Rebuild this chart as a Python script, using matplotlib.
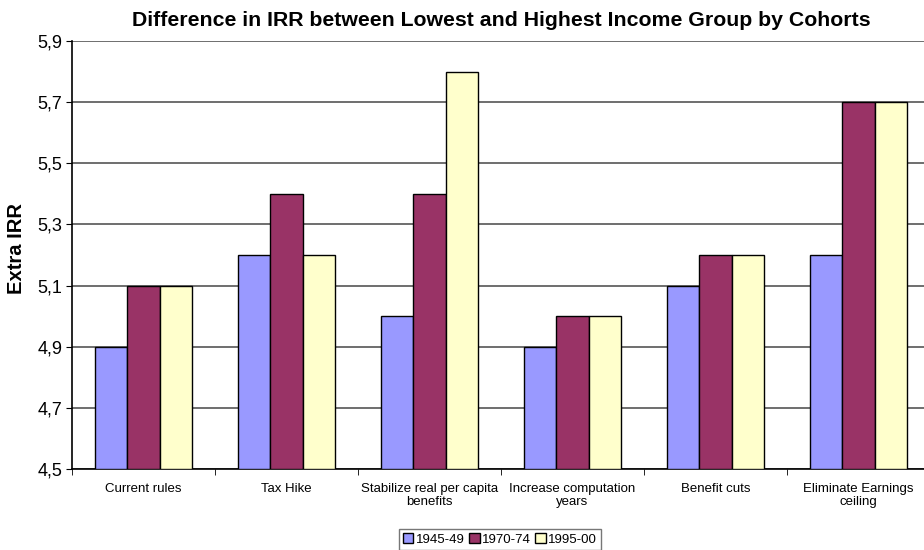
import matplotlib.pyplot as plt
import numpy as np
from matplotlib.ticker import FixedLocator, FuncFormatter

plt.rcParams['font.family'] = ['Liberation Sans', 'DejaVu Sans']

categories = ['Current rules', 'Tax Hike', 'Stabilize real per capita\nbenefits',
              'Increase computation\nyears', 'Benefit cuts', 'Eliminate Earnings\nceiling']
cohorts = ['1945-49', '1970-74', '1995-00']
irr_1945 = [4.9, 5.2, 5.0, 4.9, 5.1, 5.2]
irr_1970 = [5.1, 5.4, 5.4, 5.0, 5.2, 5.7]
irr_1995 = [5.1, 5.2, 5.8, 5.0, 5.2, 5.7]
colors = ['#9999FF', '#993366', '#FFFFCC']

fig = plt.figure(figsize=(9.24, 5.5), dpi=100)
ax = fig.add_axes([72/924, 81/550, 858/924, 428/550])

x = np.arange(len(categories))
w = 0.224
base = 4.5
for i, (vals, lab, c) in enumerate(zip([irr_1945, irr_1970, irr_1995], cohorts, colors)):
    vals = np.array(vals)
    ax.bar(x + (i - 1) * w, vals - base, w, bottom=base, color=c, edgecolor='black',
           linewidth=1, label=lab, zorder=3)

ax.set_xlim(-0.5, len(categories) - 0.5)
ax.set_ylim(4.5, 5.9)
yt = np.arange(4.5, 5.91, 0.2)
ax.set_yticks(yt)
ax.yaxis.set_major_formatter(FuncFormatter(lambda v, p: f'{v:.1f}'.replace('.', ',')))
ax.grid(axis='y', color='#555555', linewidth=1.2, zorder=0)

ax.set_xticks(x)
ax.set_xticklabels(categories, fontsize=9.5, linespacing=1.1)
ax.tick_params(axis='x', length=0, pad=10)
ax.xaxis.set_minor_locator(FixedLocator(np.arange(-0.5, len(categories), 1)))
ax.tick_params(axis='x', which='minor', length=4, direction='out')
ax.tick_params(axis='y', length=4, direction='out', labelsize=13, pad=3)

for s in ['top', 'right']:
    ax.spines[s].set_visible(False)
ax.spines['left'].set_linewidth(1.2)
ax.spines['bottom'].set_linewidth(1.2)

ax.set_ylabel('Extra IRR', fontsize=14.5, fontweight='bold')
ax.yaxis.set_label_coords(-0.054, 0.516)
fig.text(501/924, 1 - 21/550, 'Difference in IRR between Lowest and Highest Income Group by Cohorts',
         ha='center', va='center', fontsize=15.3, fontweight='bold')

fig.legend(loc='upper center', bbox_to_anchor=(500/924, 1 - 529/550), ncol=3, fontsize=9.5,
           frameon=True, fancybox=False, edgecolor='#555555', handlelength=0.8, handleheight=0.8,
           handletextpad=0.2, columnspacing=0.3, borderpad=0.3, borderaxespad=0)

fig.savefig('out.png', dpi=100)
